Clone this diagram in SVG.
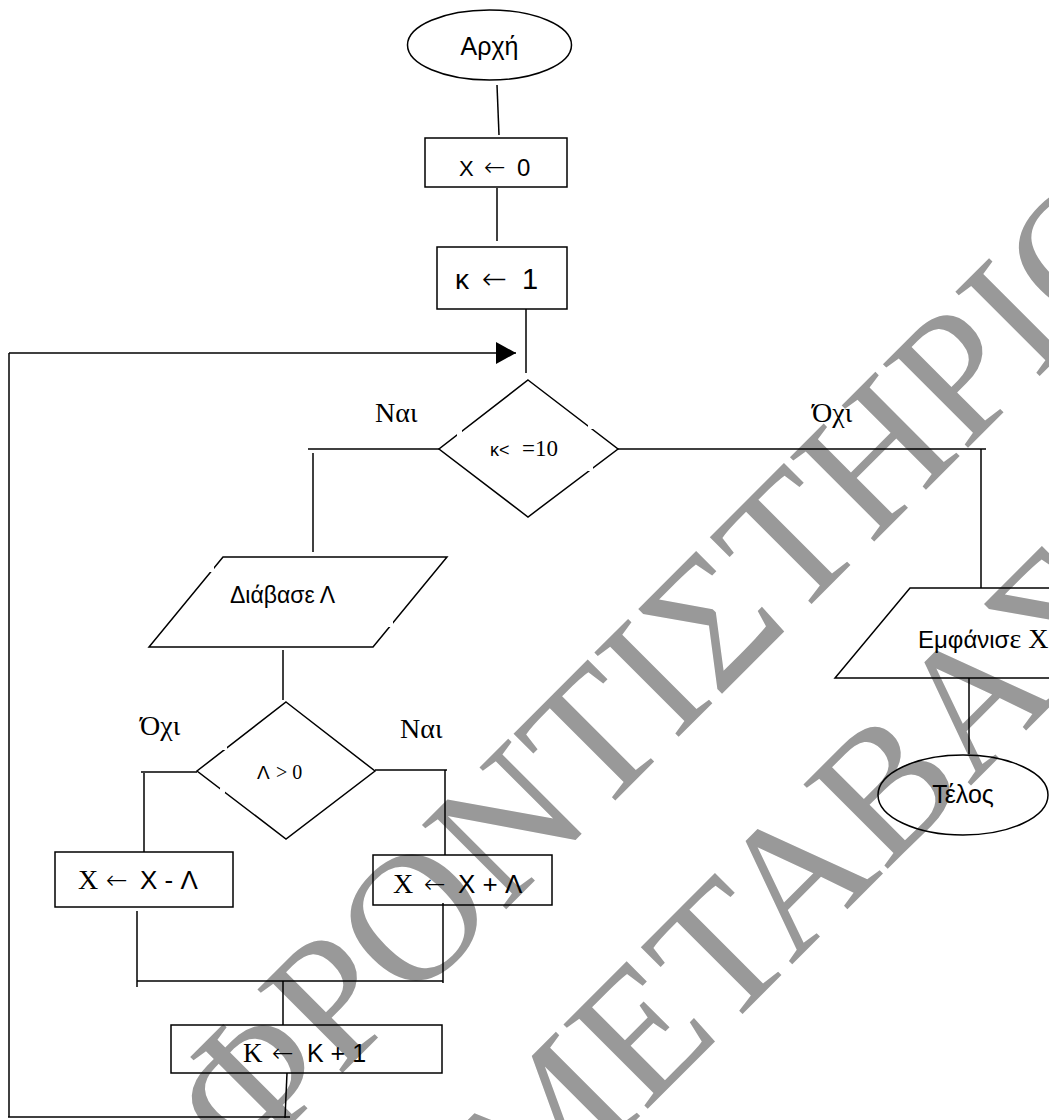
<svg xmlns="http://www.w3.org/2000/svg" width="1049" height="1120" viewBox="0 0 1049 1120">
<style>
.ln{stroke:#000;stroke-width:1.5;fill:none}
.sh{stroke:#000;stroke-width:1.5;fill:none}
.gap{fill:#fff;stroke:none}
.sans{font-family:"Liberation Sans",Arial,sans-serif}
.serif{font-family:"Liberation Serif","Times New Roman",serif}
.arr{font-family:"DejaVu Sans",sans-serif;font-weight:200}
.wm{font-family:"Liberation Serif","Times New Roman",serif;font-size:182px;fill:#999}
text{fill:#000}
</style>
<defs>
<marker id="ah" markerWidth="20" markerHeight="22" refX="20" refY="11" orient="auto" markerUnits="userSpaceOnUse">
<path d="M0,0 L20,11 L0,22 Z" fill="#000"/>
</marker>
</defs>
<rect width="1049" height="1120" fill="#fff"/>
<g id="watermark" transform="rotate(-45)">
<text class="wm" x="-656" y="1001">ΦΡΟΝΤΙΣΤΗΡΙΟ</text>
<text class="wm" x="-493" y="1242">ΜΕΤΑΒΑΣΗ</text>
</g>
<g id="connectors">
<line class="ln" x1="497" y1="85" x2="499" y2="135"/>
<line class="ln" x1="497" y1="188" x2="497" y2="241"/>
<line class="ln" x1="526" y1="309" x2="526" y2="373"/>
<line class="ln" x1="9" y1="353" x2="516" y2="353" marker-end="url(#ah)"/>
<line class="ln" x1="9" y1="353" x2="9" y2="1117"/>
<line class="ln" x1="8" y1="1117" x2="290" y2="1117"/>
<line class="ln" x1="287" y1="1073" x2="285" y2="1118"/>
<line class="ln" x1="308" y1="449" x2="439" y2="449"/>
<line class="ln" x1="313" y1="453" x2="313" y2="552"/>
<line class="ln" x1="283" y1="650" x2="283" y2="700"/>
<line class="ln" x1="141" y1="772" x2="197" y2="772"/>
<line class="ln" x1="144" y1="773" x2="144" y2="852"/>
<line class="ln" x1="375" y1="770" x2="447" y2="770"/>
<line class="ln" x1="445" y1="770" x2="445" y2="855"/>
<line class="ln" x1="137" y1="911" x2="137" y2="987"/>
<line class="ln" x1="443" y1="903" x2="443" y2="983"/>
<line class="ln" x1="137" y1="981" x2="443" y2="981"/>
<line class="ln" x1="283" y1="981" x2="283" y2="1025"/>
<line class="ln" x1="618" y1="449" x2="986" y2="449"/>
<line class="ln" x1="981" y1="449" x2="981" y2="588"/>
<line class="ln" x1="969" y1="678" x2="969" y2="754"/>
</g>
<g id="labels" class="serif" font-size="28">
<text x="375" y="422">Ναι</text>
<text x="812" y="422">Όχι</text>
<text x="140" y="735">Όχι</text>
<text x="400" y="738">Ναι</text>
</g>
<g id="start">
<ellipse class="sh" cx="489.5" cy="45" rx="82" ry="35"/>
<text class="sans" x="489.5" y="55" font-size="25" text-anchor="middle">Αρχή</text>
</g>
<g id="init-x">
<rect class="sh" x="425" y="138" width="142" height="49"/>
<text y="176"><tspan class="sans" x="459" font-size="22">X</tspan><tspan class="arr" x="484" font-size="26">←</tspan><tspan class="sans" x="517" font-size="24">0</tspan></text>
</g>
<g id="init-k">
<rect class="sh" x="437" y="247" width="130" height="62"/>
<text y="289"><tspan class="sans" x="455" font-size="28">κ</tspan><tspan class="arr" x="482" font-size="30">←</tspan><tspan class="sans" x="522" font-size="29">1</tspan></text>
</g>
<g id="cond-k">
<polygon class="sh" points="528,380 618,449 528,517 439,449"/>
<rect class="gap" x="457" y="430" width="5" height="6"/>
<rect class="gap" x="588" y="423" width="5" height="6"/>
<rect class="gap" x="588" y="466" width="5" height="5"/>
<text y="456"><tspan class="sans" x="490" font-size="18">κ&lt;</tspan><tspan class="serif" x="522" font-size="23">=10</tspan></text>
</g>
<g id="read">
<polygon class="sh" points="223,557 447,557 373,647 149,647"/>
<rect class="gap" x="209" y="566" width="5" height="6"/>
<rect class="gap" x="388" y="621" width="5" height="6"/>
<text class="sans" x="230" y="603" font-size="23">Διάβασε Λ</text>
</g>
<g id="cond-l">
<polygon class="sh" points="286,702 375,771 286,839 197,771"/>
<rect class="gap" x="222" y="745" width="5" height="5"/>
<rect class="gap" x="220" y="788" width="5" height="5"/>
<text y="779"><tspan class="sans" x="257" font-size="19">Λ</tspan><tspan class="serif" x="276" font-size="20">&gt; 0</tspan></text>
</g>
<g id="sub">
<rect class="sh" x="55" y="852" width="178" height="55"/>
<text y="889"><tspan class="serif" x="78" font-size="28">X</tspan><tspan class="arr" x="106" font-size="26">←</tspan><tspan class="sans" x="140" font-size="26">X - Λ</tspan></text>
</g>
<g id="add">
<rect class="sh" x="373" y="855" width="179" height="50"/>
<text y="893"><tspan class="serif" x="393" font-size="28">X</tspan><tspan class="arr" x="424" font-size="26">←</tspan><tspan class="sans" x="458" font-size="26">X + Λ</tspan></text>
</g>
<g id="inc">
<rect class="sh" x="171" y="1025" width="271" height="48"/>
<text y="1062"><tspan class="serif" x="243" font-size="27">K</tspan><tspan class="arr" x="272" font-size="26">←</tspan><tspan class="sans" x="307" font-size="25">K + 1</tspan></text>
</g>
<g id="output">
<polygon class="sh" points="910,588 1135,588 1060,678 835,678"/>
<text y="648"><tspan class="sans" x="918" font-size="24">Εμφάνισ</tspan><tspan class="serif" font-size="28">ε X</tspan></text>
</g>
<g id="end">
<ellipse class="sh" cx="963" cy="795" rx="85" ry="40"/>
<text class="sans" x="963" y="803" font-size="25" text-anchor="middle">Τέλος</text>
</g>
</svg>
